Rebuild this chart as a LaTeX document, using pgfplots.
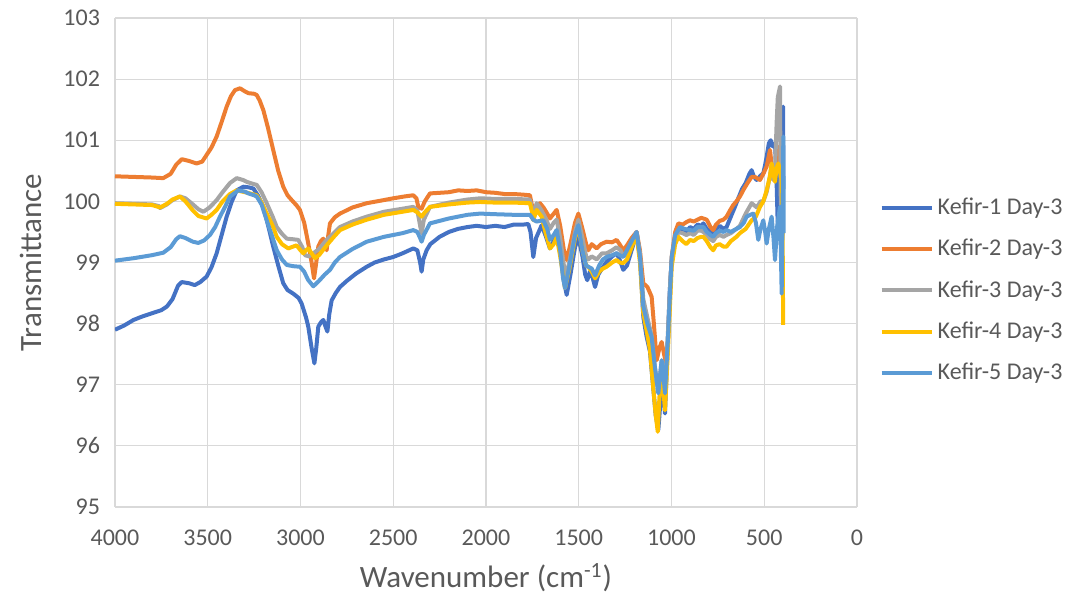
\documentclass[border=0pt]{standalone}
\usepackage{fontspec}
\setmainfont{Carlito}
\usepackage{pgfplots}
\pgfplotsset{compat=1.18}
\definecolor{kone}{HTML}{4472C4}
\definecolor{ktwo}{HTML}{ED7D31}
\definecolor{kthree}{HTML}{A5A5A5}
\definecolor{kfour}{HTML}{FFC000}
\definecolor{kfive}{HTML}{5B9BD5}
\definecolor{txt}{HTML}{595959}
\definecolor{gridc}{HTML}{D9D9D9}

\begin{document}
\begin{tikzpicture}
\path[use as bounding box] (-57.5pt,-45pt) rectangle (480.5pt,253.5pt);
\begin{axis}[
  scale only axis, width=371pt, height=244.5pt,
  x dir=reverse, xmin=0, xmax=4000, ymin=95, ymax=103,
  xtick={0,500,...,4000}, ytick={95,96,...,103},
  /pgf/number format/1000 sep={}, /pgf/number format/assume math mode=true,
  major tick length=0pt,
  grid=major, major grid style={draw=gridc, line width=0.6pt},
  axis line style={draw=none},
  tick label style={font=\fontsize{12}{14}\selectfont, text=txt},
  xticklabel style={yshift=-8pt},
  yticklabel style={xshift=-4pt},
  xlabel={Wavenumber (cm\textsuperscript{-1})}, ylabel={Transmittance},
  label style={font=\fontsize{15.5}{18}\selectfont, text=txt},
  xlabel style={yshift=-2pt}, ylabel style={yshift=4pt},
  legend style={at={(1.022,0.443)}, anchor=west, draw=none, fill=none,
    font=\fontsize{12}{14}\selectfont, text=txt, row sep=6.8pt},
  legend cell align=left,
  legend image code/.code={\draw[#1, line width=2pt] (0pt,0pt) -- (25pt,0pt);},
  every axis plot/.append style={line width=2pt, line join=round, mark=none},
]
\addplot[kone] coordinates {
(4000,97.90) (3950,97.97) (3900,98.06) (3850,98.12) (3800,98.17) (3750,98.22) (3720,98.28) (3690,98.40) (3660,98.62) (3640,98.68) (3600,98.66) (3570,98.63) (3540,98.68) (3506,98.77) (3480,98.92) (3452,99.15) (3425,99.45) (3398,99.75) (3370,100.00) (3344,100.18) (3308,100.24) (3280,100.23) (3254,100.21) (3230,100.10) (3200,99.91) (3170,99.55) (3147,99.26) (3120,98.95) (3093,98.66) (3070,98.55) (3039,98.49) (3010,98.42) (2994,98.33) (2970,98.10) (2958,97.95) (2940,97.60) (2925,97.35) (2915,97.60) (2904,97.95) (2890,98.02) (2877,98.06) (2865,97.95) (2855,97.87) (2845,98.15) (2832,98.38) (2810,98.50) (2787,98.60) (2750,98.70) (2700,98.82) (2643,98.93) (2600,99.00) (2550,99.05) (2500,99.09) (2450,99.15) (2392,99.23) (2370,99.20) (2355,99.00) (2347,98.85) (2338,99.05) (2320,99.20) (2300,99.30) (2250,99.42) (2200,99.50) (2150,99.55) (2100,99.58) (2050,99.60) (2000,99.58) (1950,99.60) (1900,99.58) (1850,99.62) (1800,99.62) (1772,99.63) (1760,99.50) (1745,99.09) (1730,99.40) (1700,99.61) (1680,99.45) (1655,99.23) (1635,99.35) (1619,99.53) (1600,99.20) (1580,98.70) (1565,98.47) (1545,98.80) (1520,99.25) (1502,99.42) (1480,99.10) (1465,98.80) (1454,98.71) (1440,98.85) (1425,98.75) (1412,98.60) (1395,98.80) (1375,98.90) (1350,99.01) (1320,99.10) (1296,99.15) (1280,99.05) (1260,98.88) (1240,98.95) (1215,99.20) (1188,99.48) (1170,99.10) (1152,98.11) (1135,97.80) (1116,97.54) (1100,97.00) (1085,96.50) (1071,96.26) (1060,96.70) (1050,96.97) (1042,96.80) (1035,96.53) (1025,97.30) (1010,98.50) (999,99.04) (980,99.40) (963,99.53) (940,99.55) (920,99.50) (900,99.58) (880,99.55) (860,99.62) (840,99.60) (828,99.64) (810,99.55) (790,99.52) (775,99.48) (760,99.55) (740,99.60) (720,99.55) (703,99.58) (680,99.75) (658,99.91) (640,100.05) (620,100.20) (600,100.30) (580,100.45) (568,100.51) (555,100.40) (541,100.35) (520,100.42) (505,100.46) (495,100.60) (487,100.73) (475,100.95) (465,101.00) (455,100.90) (442,100.95) (435,100.50) (428,99.70) (424,99.53) (418,100.20) (410,100.80) (404,101.40) (398,101.55) (397,100.20)
};
\addlegendentry{Kefir-1 Day-3}
\addplot[ktwo] coordinates {
(4000,100.41) (3900,100.40) (3800,100.39) (3740,100.38) (3700,100.45) (3670,100.60) (3640,100.69) (3600,100.66) (3560,100.62) (3530,100.65) (3506,100.76) (3480,100.88) (3452,101.06) (3425,101.30) (3398,101.55) (3375,101.72) (3353,101.82) (3326,101.85) (3300,101.80) (3281,101.77) (3250,101.76) (3236,101.74) (3220,101.65) (3200,101.49) (3175,101.20) (3147,100.84) (3120,100.50) (3093,100.24) (3070,100.10) (3047,100.02) (3020,99.93) (3003,99.86) (2980,99.65) (2958,99.31) (2940,99.00) (2927,98.74) (2915,99.00) (2904,99.26) (2890,99.35) (2877,99.39) (2868,99.30) (2859,99.20) (2850,99.45) (2841,99.64) (2815,99.74) (2787,99.80) (2720,99.90) (2643,99.97) (2570,100.01) (2500,100.05) (2440,100.08) (2392,100.10) (2375,100.05) (2365,99.91) (2347,99.88) (2330,100.00) (2302,100.13) (2250,100.14) (2200,100.15) (2150,100.18) (2100,100.17) (2050,100.18) (2000,100.15) (1950,100.14) (1900,100.12) (1850,100.12) (1800,100.11) (1763,100.10) (1750,99.90) (1745,99.75) (1730,99.90) (1709,99.97) (1690,99.90) (1670,99.80) (1655,99.72) (1640,99.78) (1619,99.86) (1600,99.60) (1580,99.20) (1565,99.04) (1545,99.30) (1520,99.65) (1502,99.80) (1480,99.55) (1460,99.30) (1448,99.20) (1430,99.30) (1403,99.23) (1380,99.30) (1350,99.34) (1320,99.33) (1296,99.37) (1280,99.30) (1260,99.20) (1240,99.28) (1215,99.40) (1188,99.50) (1170,99.20) (1152,98.66) (1130,98.60) (1107,98.44) (1095,98.00) (1080,97.40) (1065,97.60) (1053,97.70) (1040,97.50) (1026,97.29) (1012,98.20) (999,99.09) (980,99.50) (963,99.64) (940,99.62) (920,99.66) (900,99.69) (880,99.67) (860,99.70) (840,99.73) (828,99.72) (810,99.70) (790,99.58) (775,99.53) (760,99.62) (740,99.68) (720,99.70) (703,99.75) (685,99.85) (667,99.94) (650,100.00) (631,100.08) (610,100.20) (590,100.30) (568,100.40) (550,100.40) (523,100.35) (505,100.45) (487,100.57) (475,100.75) (469,100.84) (460,100.60) (451,100.35) (440,100.55) (430,100.80) (424,100.89) (415,100.60) (406,100.24) (400,100.50)
};
\addlegendentry{Kefir-2 Day-3}
\addplot[kthree] coordinates {
(4000,99.97) (3900,99.96) (3800,99.95) (3760,99.92) (3757,99.89) (3720,99.95) (3690,100.02) (3650,100.08) (3620,100.05) (3580,99.95) (3550,99.87) (3524,99.83) (3490,99.90) (3452,100.02) (3420,100.15) (3380,100.30) (3344,100.38) (3310,100.35) (3290,100.32) (3260,100.29) (3236,100.27) (3210,100.15) (3182,99.97) (3150,99.75) (3128,99.58) (3100,99.47) (3074,99.39) (3040,99.38) (3012,99.37) (2990,99.25) (2976,99.12) (2955,99.10) (2931,99.15) (2900,99.22) (2859,99.37) (2820,99.48) (2787,99.58) (2720,99.67) (2643,99.75) (2550,99.83) (2450,99.88) (2392,99.91) (2370,99.85) (2355,99.60) (2347,99.48) (2335,99.70) (2302,99.91) (2200,99.98) (2100,100.03) (2032,100.05) (1950,100.04) (1850,100.04) (1763,100.03) (1750,99.85) (1745,99.75) (1727,99.97) (1700,99.85) (1675,99.70) (1655,99.55) (1635,99.65) (1619,99.70) (1600,99.40) (1580,98.95) (1565,98.80) (1545,99.10) (1520,99.50) (1502,99.70) (1480,99.40) (1460,99.10) (1448,99.05) (1430,99.10) (1403,99.05) (1375,99.15) (1350,99.15) (1320,99.20) (1296,99.25) (1275,99.20) (1260,99.10) (1240,99.15) (1215,99.30) (1188,99.50) (1170,99.15) (1152,98.40) (1130,98.10) (1107,97.80) (1090,97.30) (1071,96.90) (1060,97.20) (1053,97.40) (1042,97.10) (1035,96.90) (1020,97.80) (1005,98.80) (990,99.25) (963,99.50) (940,99.48) (920,99.45) (900,99.48) (880,99.45) (860,99.52) (840,99.52) (828,99.50) (810,99.45) (790,99.38) (775,99.35) (760,99.42) (740,99.45) (720,99.42) (703,99.45) (680,99.48) (650,99.55) (631,99.60) (600,99.80) (568,99.97) (540,99.90) (520,100.00) (505,100.00) (487,100.15) (470,100.40) (460,100.60) (450,100.35) (442,100.50) (433,101.30) (427,101.70) (415,101.88) (412,100.20) (405,99.40) (400,99.50)
};
\addlegendentry{Kefir-3 Day-3}
\addplot[kfour] coordinates {
(4000,99.96) (3900,99.95) (3800,99.94) (3757,99.90) (3720,99.96) (3690,100.03) (3650,100.08) (3620,100.00) (3580,99.85) (3550,99.76) (3506,99.72) (3480,99.78) (3452,99.86) (3420,100.00) (3380,100.12) (3344,100.18) (3300,100.15) (3272,100.13) (3236,100.10) (3210,99.98) (3182,99.80) (3150,99.60) (3128,99.42) (3100,99.30) (3066,99.23) (3040,99.26) (3021,99.28) (3000,99.20) (2985,99.15) (2970,99.20) (2958,99.23) (2940,99.15) (2922,99.07) (2900,99.12) (2859,99.28) (2820,99.42) (2787,99.53) (2720,99.62) (2643,99.70) (2550,99.78) (2450,99.83) (2392,99.86) (2370,99.82) (2347,99.75) (2330,99.82) (2302,99.91) (2200,99.95) (2100,99.98) (2032,99.99) (1950,99.98) (1850,99.98) (1763,99.97) (1750,99.80) (1745,99.69) (1727,99.86) (1700,99.75) (1680,99.50) (1655,99.23) (1635,99.30) (1619,99.42) (1600,99.10) (1580,98.70) (1574,98.58) (1550,98.90) (1520,99.40) (1502,99.58) (1480,99.20) (1460,98.95) (1448,98.93) (1430,98.85) (1412,98.74) (1390,98.85) (1370,98.90) (1350,98.93) (1320,99.00) (1296,99.04) (1280,99.00) (1260,98.99) (1240,99.05) (1215,99.25) (1188,99.45) (1170,99.00) (1152,98.17) (1135,97.90) (1116,97.57) (1100,97.00) (1085,96.50) (1074,96.23) (1065,96.80) (1053,97.13) (1042,96.85) (1035,96.58) (1020,97.50) (1005,98.50) (999,98.93) (980,99.30) (963,99.42) (940,99.35) (920,99.30) (900,99.37) (880,99.35) (860,99.40) (840,99.42) (828,99.42) (810,99.35) (790,99.25) (775,99.20) (760,99.28) (740,99.30) (720,99.26) (703,99.26) (680,99.35) (650,99.42) (631,99.48) (600,99.55) (568,99.69) (545,99.75) (523,99.91) (505,100.00) (487,100.18) (470,100.40) (460,100.62) (450,100.45) (442,100.32) (433,100.55) (424,100.62) (415,100.50) (406,100.35) (401,99.50) (398,97.98)
};
\addlegendentry{Kefir-4 Day-3}
\addplot[kfive] coordinates {
(4000,99.03) (3900,99.07) (3800,99.12) (3740,99.16) (3700,99.25) (3670,99.38) (3650,99.43) (3620,99.40) (3580,99.34) (3551,99.32) (3520,99.36) (3488,99.45) (3460,99.58) (3434,99.75) (3405,99.92) (3380,100.08) (3335,100.18) (3300,100.16) (3281,100.13) (3250,100.10) (3236,100.08) (3210,99.95) (3182,99.69) (3150,99.40) (3128,99.20) (3100,99.05) (3074,98.96) (3040,98.94) (3003,98.93) (2980,98.85) (2960,98.72) (2931,98.61) (2900,98.70) (2870,98.80) (2841,98.88) (2815,99.00) (2787,99.09) (2720,99.22) (2643,99.34) (2550,99.42) (2450,99.48) (2392,99.53) (2370,99.50) (2355,99.40) (2347,99.34) (2335,99.45) (2302,99.64) (2200,99.72) (2100,99.78) (2032,99.80) (1950,99.79) (1850,99.78) (1763,99.78) (1745,99.70) (1727,99.67) (1710,99.68) (1691,99.69) (1670,99.55) (1655,99.37) (1635,99.45) (1619,99.53) (1600,99.20) (1585,98.75) (1574,98.58) (1550,98.95) (1520,99.45) (1502,99.61) (1480,99.20) (1460,98.95) (1448,98.93) (1430,98.90) (1412,98.79) (1390,98.95) (1370,99.05) (1350,99.09) (1320,99.12) (1296,99.15) (1280,99.12) (1260,99.09) (1240,99.20) (1215,99.35) (1188,99.50) (1170,99.10) (1152,98.28) (1130,98.00) (1107,97.78) (1090,97.30) (1071,96.86) (1060,97.20) (1053,97.40) (1042,97.10) (1035,96.86) (1020,97.70) (1005,98.70) (999,99.09) (980,99.45) (954,99.58) (930,99.55) (900,99.53) (880,99.52) (860,99.58) (840,99.58) (828,99.58) (810,99.50) (790,99.45) (775,99.42) (760,99.48) (740,99.52) (720,99.50) (703,99.53) (680,99.50) (650,99.55) (631,99.58) (610,99.65) (595,99.75) (575,99.78) (559,99.80) (545,99.65) (532,99.37) (520,99.55) (505,99.69) (495,99.50) (487,99.31) (475,99.55) (460,99.75) (450,99.40) (442,99.04) (430,99.60) (415,99.91) (406,98.49) (400,100.20) (397,101.06) (395,99.48)
};
\addlegendentry{Kefir-5 Day-3}
\end{axis}
\end{tikzpicture}
\end{document}
